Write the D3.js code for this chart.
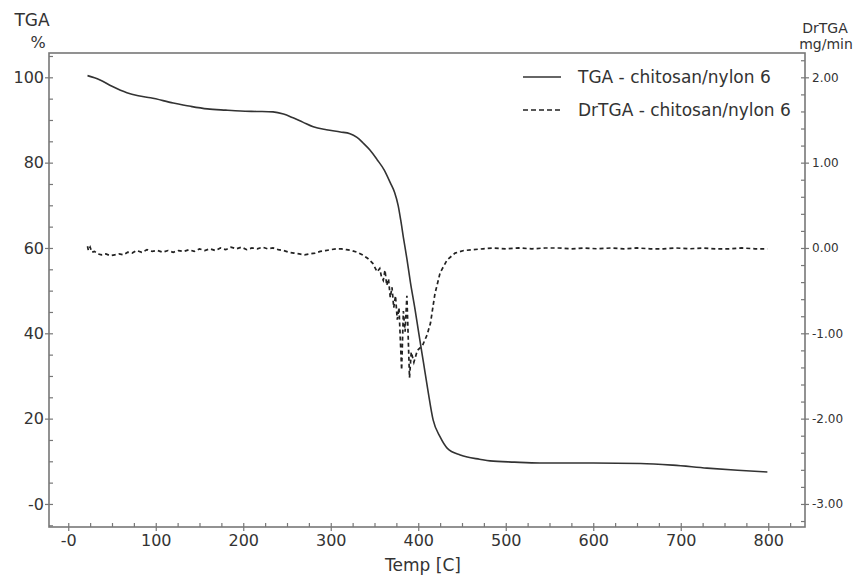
<!DOCTYPE html>
<html>
<head>
<meta charset="utf-8">
<script src="https://cdn.jsdelivr.net/npm/d3@7"></script>
<style>
  body { margin: 0; background: #fff; }
  svg text { font-family: "DejaVu Sans", sans-serif; fill: #333; }
</style>
</head>
<body>
<div id="chart"></div>
<script>
const width = 857, height = 576;

// TGA curve: [temp C, weight %]
const tgaData = [
  [22, 100.4], [30, 99.9], [37, 99.3], [50, 97.9], [67, 96.4], [80, 95.7], [94, 95.2],
  [120, 94.0], [140, 93.2], [159, 92.6], [180, 92.3], [197, 92.1], [215, 92.0], [234, 91.9],
  [246, 91.4], [257, 90.5], [268, 89.5], [280, 88.4], [295, 87.7], [311, 87.2], [322, 86.8],
  [330, 85.9], [337, 84.6], [345, 82.9], [353, 80.7], [361, 78.3], [368, 75.3], [373, 73.0],
  [377, 70.0], [380, 66.5], [383, 62.5], [387, 57.5], [391, 52.0], [396, 46.0], [400, 40.8],
  [406, 33.1], [411, 26.7], [417, 19.7], [425, 15.7], [433, 13.1], [448, 11.5], [456, 11.0],
  [470, 10.5], [482, 10.1], [510, 9.8], [539, 9.6], [600, 9.6], [654, 9.5], [691, 9.1],
  [730, 8.4], [765, 7.9], [799, 7.5]
];

// DrTGA curve: [temp C, mg/min]
const drtgaData = [
  [22, 0.02], [23, -0.03], [25, 0.01], [27, -0.05], [30, -0.04], [34, -0.07], [38, -0.08],
  [43, -0.07], [48, -0.09], [53, -0.08], [58, -0.07], [63, -0.08], [68, -0.05], [73, -0.06],
  [78, -0.03], [84, -0.05], [90, -0.02], [96, -0.04], [102, -0.03], [108, -0.05], [114, -0.03],
  [120, -0.05], [126, -0.03], [132, -0.04], [138, -0.02], [144, -0.04], [150, -0.01], [156, -0.03],
  [162, -0.01], [168, -0.03], [174, 0.00], [180, -0.02], [186, 0.01], [192, -0.01], [198, 0.01],
  [204, -0.02], [210, 0.00], [216, -0.01], [222, 0.01], [228, -0.01], [234, 0.00], [240, -0.02],
  [246, -0.03], [252, -0.05], [258, -0.06], [264, -0.07], [270, -0.08], [276, -0.07], [282, -0.06],
  [288, -0.04], [294, -0.03], [300, -0.02], [306, -0.01], [312, -0.01], [318, -0.02], [324, -0.03],
  [330, -0.05], [336, -0.08], [342, -0.12], [348, -0.18], [353, -0.28], [356, -0.24], [358, -0.34],
  [360, -0.38], [362, -0.26], [364, -0.44], [366, -0.36], [368, -0.58], [370, -0.46], [372, -0.70],
  [374, -0.56], [376, -0.84], [378, -0.70], [381, -1.43], [383, -0.74], [385, -0.98], [387, -0.56],
  [390, -1.52], [392, -1.22], [395, -1.34], [399, -1.20], [405, -1.14], [410, -1.02], [414, -0.88],
  [419, -0.54], [425, -0.29], [433, -0.14], [442, -0.06], [452, -0.03], [462, -0.02], [474, -0.01],
  [486, 0.00], [500, -0.01], [515, 0.00], [530, -0.01], [545, 0.00], [560, 0.00], [575, -0.01],
  [590, 0.00], [605, -0.01], [620, 0.00], [635, -0.01], [650, 0.00], [665, -0.01], [680, -0.01],
  [695, 0.00], [710, -0.01], [725, 0.00], [740, -0.01], [755, -0.01], [770, 0.00], [785, -0.01],
  [799, -0.01]
];

const xTicks = [0, 100, 200, 300, 400, 500, 600, 700, 800];
const xTickLabels = ["-0", "100", "200", "300", "400", "500", "600", "700", "800"];
const yTicks = [0, 20, 40, 60, 80, 100];
const yTickLabels = ["-0", "20", "40", "60", "80", "100"];
const y2Ticks = [-3, -2, -1, 0, 1, 2];
const y2TickLabels = ["-3.00", "-2.00", "-1.00", "0.00", "1.00", "2.00"];

const seriesNames = ["TGA - chitosan/nylon 6", "DrTGA - chitosan/nylon 6"];

const margin = {top: 53, right: 52, bottom: 49, left: 49};

const svg = d3.select("#chart").append("svg")
    .attr("width", width)
    .attr("height", height);

const x = d3.scaleLinear()
    .domain([-22, 842])
    .range([margin.left, width - margin.right]);

const y = d3.scaleLinear()
    .domain([-5.4, 105.7])
    .range([height - margin.bottom, margin.top]);

const y2 = d3.scaleLinear()
    .domain([-3.27, 2.285])
    .range([height - margin.bottom, margin.top]);

const axisColor = "#777";

function styleAxis(g) {
    g.select(".domain").remove();
    g.selectAll(".tick line").attr("stroke", axisColor).attr("stroke-width", 1.2);
    g.selectAll(".tick text").attr("fill", "#333");
}

// minor ticks (inward)
svg.append("g")
    .attr("transform", `translate(0,${height - margin.bottom})`)
    .call(d3.axisBottom(x).tickValues(d3.range(-0, 826, 25)).tickSize(-4).tickFormat(""))
    .call(styleAxis);
svg.append("g")
    .attr("transform", `translate(${margin.left},0)`)
    .call(d3.axisLeft(y).tickValues(d3.range(-5, 106, 5)).tickSize(-4).tickFormat(""))
    .call(styleAxis);
svg.append("g")
    .attr("transform", `translate(${width - margin.right},0)`)
    .call(d3.axisRight(y2).tickValues(d3.range(-3.2, 2.21, 0.2)).tickSize(-4).tickFormat(""))
    .call(styleAxis);

// major ticks with labels
svg.append("g")
    .attr("transform", `translate(0,${height - margin.bottom})`)
    .call(d3.axisBottom(x).tickValues(xTicks).tickSize(4).tickPadding(4)
        .tickFormat((d, i) => xTickLabels[i]))
    .call(styleAxis)
    .call(g => g.selectAll(".tick text").attr("font-size", 16));

svg.append("g")
    .attr("transform", `translate(${margin.left},0)`)
    .call(d3.axisLeft(y).tickValues(yTicks).tickSize(4).tickPadding(1)
        .tickFormat((d, i) => yTickLabels[i]))
    .call(styleAxis)
    .call(g => g.selectAll(".tick text").attr("font-size", 16));

svg.append("g")
    .attr("transform", `translate(${width - margin.right},0)`)
    .call(d3.axisRight(y2).tickValues(y2Ticks).tickSize(4).tickPadding(3)
        .tickFormat((d, i) => y2TickLabels[i]))
    .call(styleAxis)
    .call(g => g.selectAll(".tick text").attr("font-size", 12));

// plot frame
svg.append("rect")
    .attr("x", margin.left)
    .attr("y", margin.top)
    .attr("width", width - margin.left - margin.right)
    .attr("height", height - margin.top - margin.bottom)
    .attr("fill", "none")
    .attr("stroke", axisColor)
    .attr("stroke-width", 1.6);

// lines
let tgaLine = d3.line()
    .x(d => x(d[0]))
    .y(d => y(d[1]))
    .curve(d3.curveMonotoneX);

let drLine = d3.line()
    .x(d => x(d[0]))
    .y(d => y2(d[1]));

svg.append("path")
    .datum(tgaData)
    .attr("d", tgaLine)
    .attr("fill", "none")
    .attr("stroke", "#333")
    .attr("stroke-width", 1.6);

svg.append("path")
    .datum(drtgaData)
    .attr("d", drLine)
    .attr("fill", "none")
    .attr("stroke", "#222")
    .attr("stroke-width", 1.7)
    .attr("stroke-dasharray", "4,3");

// axis titles
svg.append("text").attr("x", 32).attr("y", 26).attr("text-anchor", "middle")
    .attr("font-size", 17).text("TGA");
svg.append("text").attr("x", 38).attr("y", 48).attr("text-anchor", "middle")
    .attr("font-size", 16).text("%");
svg.append("text").attr("x", 825).attr("y", 33).attr("text-anchor", "middle")
    .attr("font-size", 14).text("DrTGA");
svg.append("text").attr("x", 826).attr("y", 49).attr("text-anchor", "middle")
    .attr("font-size", 14).text("mg/min");
svg.append("text").attr("x", 423).attr("y", 571).attr("text-anchor", "middle")
    .attr("font-size", 17).text("Temp  [C]");

// legend
const legend = svg.append("g")
    .selectAll("g")
    .data(seriesNames)
    .join("g")
        .attr("transform", (d, i) => `translate(523,${77 + i * 33})`);
legend.append("line")
    .attr("x1", 0).attr("x2", 38)
    .attr("stroke", (d, i) => i ? "#222" : "#333")
    .attr("stroke-width", 1.6)
    .attr("stroke-dasharray", (d, i) => i ? "5,3" : null);
legend.append("text")
    .attr("x", 55)
    .attr("dy", "0.35em")
    .attr("font-size", 17)
    .text(d => d);
</script>
</body>
</html>
